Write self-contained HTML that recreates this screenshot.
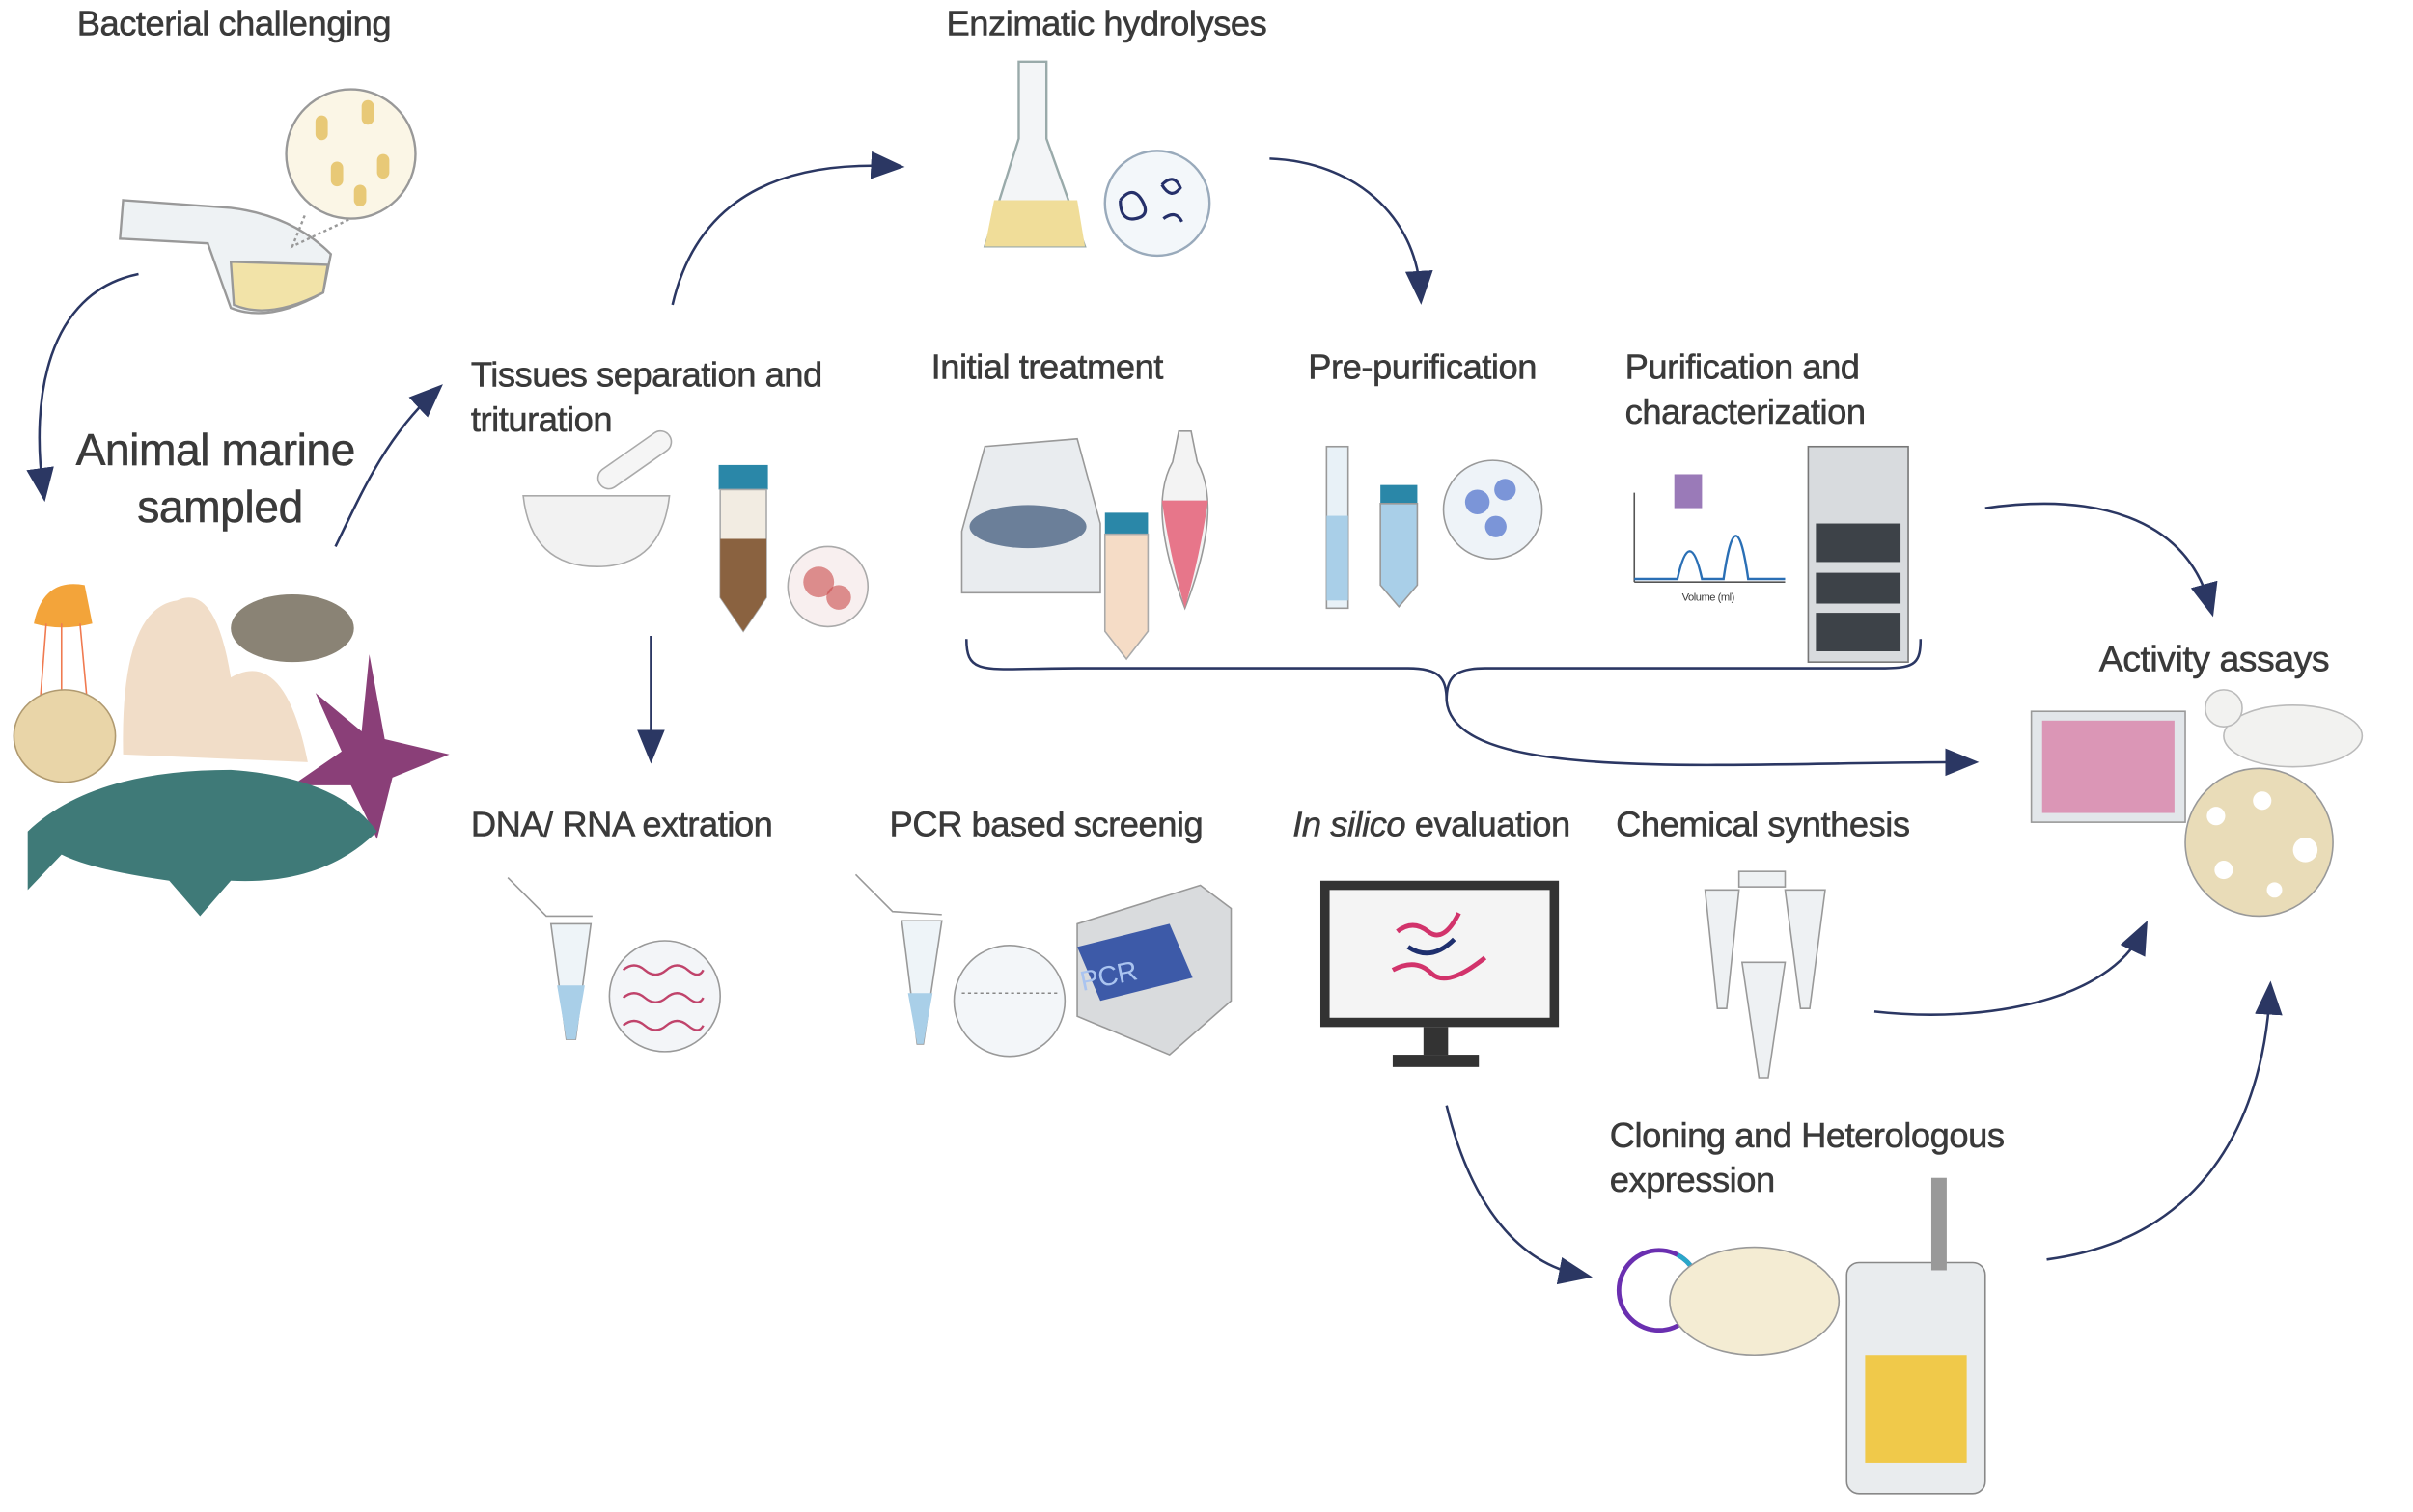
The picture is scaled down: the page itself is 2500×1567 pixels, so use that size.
<!DOCTYPE html>
<html><head><meta charset="utf-8"><style>
html,body{margin:0;padding:0;background:#fff;width:2500px;height:1567px;overflow:hidden}
svg{display:block}
text{font-family:"Liberation Sans",sans-serif;fill:#3a3a3a;font-size:22.8px;letter-spacing:-0.3px;stroke:#3a3a3a;stroke-width:0.35px}
</style></head><body>
<svg width="2500" height="1567" viewBox="0 0 1568 982" preserveAspectRatio="none" xmlns="http://www.w3.org/2000/svg">
<defs>
<marker id="ah2" markerWidth="22" markerHeight="22" refX="14" refY="11" orient="auto" markerUnits="userSpaceOnUse" viewBox="0 0 22 22">
<path d="M0,2 L22,11 L0,20 z" fill="#2b3763"/></marker>
</defs>
<g fill="none" stroke="#2b3763" stroke-width="1.6" marker-end="url(#ah2)">
<path d="M90,178 C30,190 20,260 28,318"/>
<path d="M218,355 C235,320 250,285 282,255"/>
<path d="M437,198 C455,120 520,105 580,108"/>
<path d="M825,103 C880,105 920,140 923,190"/>
<path d="M423,413 L423,488"/>
<path d="M1290,330 C1360,320 1420,335 1436,393"/>
<path d="M940,455 C945,510 1120,495 1278,495"/>
<path d="M1218,657 C1290,665 1370,650 1392,605"/>
<path d="M940,718 C955,780 985,820 1027,828"/>
<path d="M1330,818 C1430,805 1470,730 1475,645"/>
</g>
<path d="M628,415 C628,440 640,434 700,434 L915,434 C935,434 940,440 940,455 C940,440 945,434 965,434 L1225,434 C1245,434 1248,430 1248,415" fill="none" stroke="#2b3763" stroke-width="1.6"/>

<text x="50" y="23">Bacterial challenging</text>
<text x="615" y="23">Enzimatic hydrolyses</text>
<text x="140" y="302" text-anchor="middle" style="font-size:29px">Animal marine</text>
<text x="143" y="339" text-anchor="middle" style="font-size:29px">sampled</text>
<text x="306" y="251">Tissues separation and</text>
<text x="306" y="280">trituration</text>
<text x="605" y="246">Initial treatment</text>
<text x="850" y="246">Pre-purification</text>
<text x="1056" y="246">Purification and</text>
<text x="1056" y="275">characterization</text>
<text x="1364" y="436" style="font-size:23.5px">Activity assays</text>
<text x="306" y="543">DNA/ RNA extration</text>
<text x="578" y="543">PCR based screenig</text>
<text x="840" y="543"><tspan font-style="italic">In silico</tspan> evaluation</text>
<text x="1050" y="543">Chemical synthesis</text>
<text x="1046" y="745">Cloning and Heterologous</text>
<text x="1046" y="774">expression</text>

<!-- bacterial flask (lying) -->
<g stroke="#999" stroke-width="1.5">
<path d="M80,130 L78,155 L135,158 L150,200 Q175,210 210,190 L215,165 Q190,140 150,135 Z" fill="#eef2f4"/>
<path d="M150,170 L213,172 L210,190 Q175,208 152,198 Z" fill="#f2e3a8"/>
<path d="M198,140 L190,160 L228,142" fill="none" stroke-dasharray="2 2"/>
<circle cx="228" cy="100" r="42" fill="#fbf6e6"/>
</g>
<g fill="#e8c977"><rect x="205" y="75" width="8" height="16" rx="4"/><rect x="235" y="65" width="8" height="16" rx="4"/><rect x="215" y="105" width="8" height="16" rx="4"/><rect x="245" y="100" width="8" height="16" rx="4"/><rect x="230" y="120" width="8" height="14" rx="4"/></g>

<!-- marine animals -->
<path d="M22,405 Q28,375 55,380 L60,405 Q40,410 22,405 Z" fill="#f3a43a"/>
<g stroke="#f07a50" stroke-width="1"><path d="M30,405 L25,470"/><path d="M40,405 L40,470"/><path d="M52,405 L58,470"/></g>
<path d="M80,490 Q78,395 115,390 Q140,378 150,440 Q185,420 200,495 Z" fill="#f1ddc8"/>
<ellipse cx="190" cy="408" rx="40" ry="22" fill="#8a8375"/>
<ellipse cx="42" cy="478" rx="33" ry="30" fill="#e9d5a8" stroke="#b09a70"/>
<path d="M240,425 L250,480 L292,490 L255,505 L245,545 L228,510 L190,510 L222,488 L205,450 L235,475 Z" fill="#8a3f78"/>
<path d="M18,540 Q60,500 150,500 Q220,505 245,540 Q210,575 150,572 L130,595 L110,572 Q60,565 40,555 L18,578 Z" fill="#3f7a78"/>

<!-- enzymatic flask -->
<path d="M662,40 L680,40 L680,90 L705,160 L640,160 L662,90 Z" fill="#f3f5f7" stroke="#9aa" stroke-width="1.5"/>
<path d="M646,130 L700,130 L705,160 L640,160 Z" fill="#f0dd99"/>
<circle cx="752" cy="132" r="34" fill="#f3f7fa" stroke="#9ab" stroke-width="1.5"/>
<path d="M728,130 q8,-10 14,0 q6,10 -4,12 q-10,2 -10,-12 M755,120 q8,-8 12,2 q-6,8 -12,-2 M756,142 q8,-6 12,2" fill="none" stroke="#25306a" stroke-width="2"/>

<!-- mortar, tube -->
<path d="M340,322 Q345,368 388,368 Q430,368 435,322 Z" fill="#f2f2f2" stroke="#aaa"/>
<rect x="385" y="292" width="55" height="14" rx="7" transform="rotate(-35 412 299)" fill="#f5f5f5" stroke="#aaa"/>
<rect x="467" y="302" width="32" height="16" fill="#2a87a8"/>
<path d="M468,318 L498,318 L498,388 L483,410 L468,388 Z" fill="#f2ece2" stroke="#aaa"/>
<path d="M468,350 L498,350 L498,388 L483,410 L468,388 Z" fill="#8a6240"/>
<circle cx="538" cy="381" r="26" fill="#f8efef" stroke="#aaa"/>
<circle cx="532" cy="378" r="10" fill="#c94a4a" opacity=".6"/><circle cx="545" cy="388" r="8" fill="#c94a4a" opacity=".6"/>

<!-- centrifuge etc -->
<path d="M625,345 L640,290 L700,285 L715,340 L715,385 L625,385 Z" fill="#e9ecef" stroke="#999"/>
<ellipse cx="668" cy="342" rx="38" ry="14" fill="#6b7f99"/>
<rect x="718" y="333" width="28" height="14" fill="#2a87a8"/>
<path d="M718,347 L746,347 L746,410 L732,428 L718,410 Z" fill="#f5dcc6" stroke="#aaa"/>
<path d="M766,280 L774,280 L778,300 Q795,330 770,395 Q745,330 762,300 Z" fill="#f3f3f3" stroke="#999"/>
<path d="M755,325 L785,325 Q780,360 770,395 Q760,360 755,325 Z" fill="#e7768a"/>

<!-- pre-purification -->
<rect x="862" y="290" width="14" height="105" fill="#e8f1f7" stroke="#999"/>
<rect x="862" y="335" width="14" height="55" fill="#a9cfe8"/>
<rect x="897" y="315" width="24" height="12" fill="#2a87a8"/>
<path d="M897,327 L921,327 L921,380 L909,394 L897,380 Z" fill="#a9cfe8" stroke="#999"/>
<circle cx="970" cy="331" r="32" fill="#eef3f8" stroke="#999"/>
<circle cx="960" cy="326" r="8" fill="#7b95d8"/><circle cx="978" cy="318" r="7" fill="#7b95d8"/><circle cx="972" cy="342" r="7" fill="#7b95d8"/>

<!-- chromatogram + HPLC -->
<path d="M1062,378 L1160,378 M1062,378 L1062,320" stroke="#555" fill="none"/>
<path d="M1062,376 L1090,376 Q1098,340 1106,376 L1120,376 Q1128,320 1136,376 L1160,376" stroke="#2a6fb5" fill="none" stroke-width="1.5"/>
<rect x="1088" y="308" width="18" height="22" fill="#9a7ab8"/>
<text x="1093" y="390" style="font-size:7px;stroke:none">Volume (ml)</text>
<rect x="1175" y="290" width="65" height="140" fill="#d8dbde" stroke="#777"/>
<g fill="#3d4248"><rect x="1180" y="340" width="55" height="25"/><rect x="1180" y="372" width="55" height="20"/><rect x="1180" y="398" width="55" height="25"/></g>

<!-- activity assays -->
<rect x="1320" y="462" width="100" height="72" fill="#e2e6ea" stroke="#999"/>
<rect x="1327" y="468" width="86" height="60" fill="#d6538a" opacity=".55"/>
<ellipse cx="1490" cy="478" rx="45" ry="20" fill="#f2f2f0" stroke="#bbb"/>
<circle cx="1445" cy="460" r="12" fill="#f2f2f0" stroke="#bbb"/>
<circle cx="1468" cy="547" r="48" fill="#e9dcb8" stroke="#999"/>
<g fill="#fff"><circle cx="1440" cy="530" r="6"/><circle cx="1470" cy="520" r="6"/><circle cx="1498" cy="552" r="8"/><circle cx="1445" cy="565" r="6"/><circle cx="1478" cy="578" r="5"/></g>

<!-- DNA -->
<path d="M330,570 L355,595 L385,595" fill="none" stroke="#999"/>
<path d="M358,600 L384,600 L374,675 L368,675 Z" fill="#eef4f8" stroke="#999"/>
<path d="M362,640 L380,640 L374,675 L368,675 Z" fill="#a9cfe8"/>
<circle cx="432" cy="647" r="36" fill="#f3f5f8" stroke="#999"/>
<g stroke="#c0436b" fill="none" stroke-width="1.5"><path d="M405,630 q7,-6 14,0 t14,0 t14,0 t10,0"/><path d="M405,648 q7,-6 14,0 t14,0 t14,0 t10,0"/><path d="M405,666 q7,-6 14,0 t14,0 t14,0 t10,0"/></g>

<!-- PCR -->
<path d="M556,568 L580,592 L612,594" fill="none" stroke="#999"/>
<path d="M586,598 L612,598 L600,678 L596,678 Z" fill="#eef4f8" stroke="#999"/>
<path d="M590,645 L606,645 L600,678 L596,678 Z" fill="#a9cfe8"/>
<path d="M700,600 L780,575 L800,590 L800,650 L760,685 L700,660 Z" fill="#d9dbdd" stroke="#999"/>
<path d="M700,615 L760,600 L775,635 L715,650 Z" fill="#3d5aa8"/>
<text x="702" y="640" style="font-size:18px;fill:#aac4f0;stroke:none" transform="rotate(-12 720 635)">PCR</text>
<circle cx="656" cy="650" r="36" fill="#f3f6f9" stroke="#999"/>
<path d="M625,645 L688,645" stroke="#888" stroke-dasharray="2 2"/>

<!-- monitor -->
<rect x="858" y="572" width="155" height="95" fill="#333"/>
<rect x="864" y="578" width="143" height="83" fill="#f4f4f4"/>
<path d="M908,605 q10,-8 20,0 t20,-12 M905,630 q15,-8 25,2 t35,-10" stroke="#d2336b" stroke-width="3" fill="none"/>
<path d="M915,615 q15,10 30,-5" stroke="#1e2f6e" stroke-width="3" fill="none"/>
<rect x="925" y="667" width="16" height="18" fill="#333"/><rect x="905" y="685" width="56" height="8" fill="#333"/>

<!-- chemical synthesis tubes -->
<g fill="#eef1f3" stroke="#999">
<path d="M1108,578 L1130,578 L1122,655 L1116,655 Z"/><path d="M1160,578 L1186,578 L1176,655 L1170,655 Z"/><path d="M1132,625 L1160,625 L1149,700 L1143,700 Z"/>
<rect x="1130" y="566" width="30" height="10"/></g>

<!-- cloning -->
<circle cx="1078" cy="838" r="26" fill="none" stroke="#6a2fb0" stroke-width="3"/>
<path d="M1090,815 A26,26 0 0 1 1104,840" stroke="#2aa7c9" stroke-width="3" fill="none"/>
<ellipse cx="1140" cy="845" rx="55" ry="35" fill="#f4ecd3" stroke="#999"/>
<rect x="1200" y="820" width="90" height="150" rx="8" fill="#e9ecee" stroke="#888"/>
<rect x="1212" y="880" width="66" height="70" fill="#f0c94a"/>
<rect x="1255" y="765" width="10" height="60" fill="#999"/>
</svg>
</body></html>
